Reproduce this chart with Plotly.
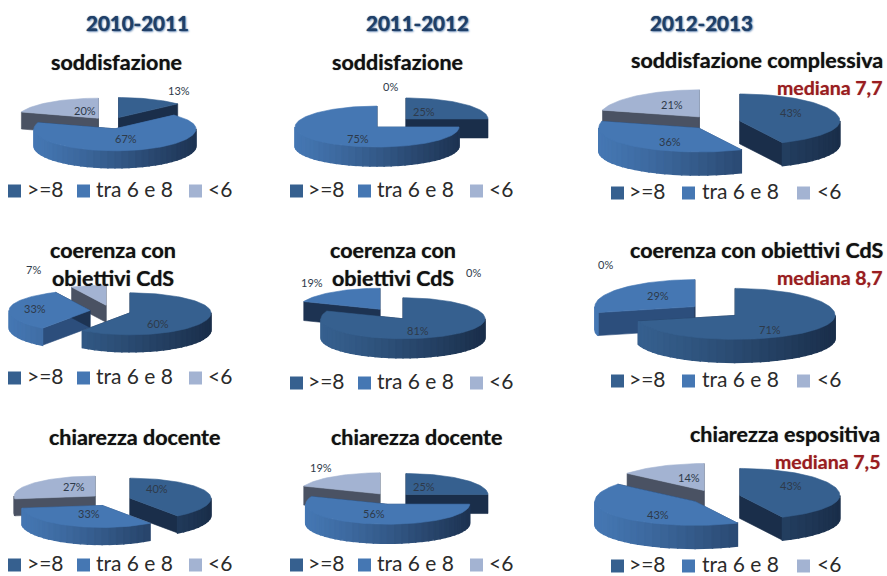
import math
import plotly.graph_objects as go

# ---------- data ----------
series_names = [">=8", "tra 6 e 8", "<6"]
years = ["2010-2011", "2011-2012", "2012-2013"]
soddisfazione_1011 = [13, 67, 20]
soddisfazione_1112 = [25, 75, 0]
soddisfazione_1213 = [43, 36, 21]
coerenza_1011 = [60, 33, 7]
coerenza_1112 = [81, 19, 0]
coerenza_1213 = [71, 29, 0]
chiarezza_1011 = [40, 33, 27]
chiarezza_1112 = [25, 56, 19]
chiarezza_1213 = [43, 43, 14]
panel_values = [soddisfazione_1011, soddisfazione_1112, soddisfazione_1213,
                coerenza_1011, coerenza_1112, coerenza_1213,
                chiarezza_1011, chiarezza_1112, chiarezza_1213]

# ---------- layout and style ----------
TOP = ["#36608F", "#4577B3", "#A3B3D2"]
SIDE = ["#1A2E4A", "#1D3352", "#4A5263"]
RADIAL = ["#1A2E4A", "#2C4E7C", "#4A5263"]
col_geom = [
    dict(cx=110.5, pull=20.5, rx=81, back=20, front=22, depth=17, ratio=0.29),
    dict(cx=391.5, pull=20.5, rx=82, back=21, front=20, depth=19, ratio=0.28),
    dict(cx=715.0, pull=25.5, rx=100, back=27, front=24, depth=23, ratio=0.28),
]
row_cy = [[123, 123, 122.5], [311, 314, 311], [500, 498.6, 497]]
label_pos = [
    [(179, 90), (126, 138), (85, 110)], [(424, 111), (358, 138), (390, 86)], [(791, 112), (670, 141), (672, 104)],
    [(158, 323), (35, 308), (33, 269)], [(418, 330), (312, 282), (473, 272)], [(770, 329), (658, 295), (605, 264)],
    [(157, 488), (89, 513), (74, 486)], [(424, 486), (374, 513), (321, 467)], [(791, 485), (658, 514), (689, 477)],
]
legend_x = [[(8, 25), (77, 94), (189, 206)], [(290, 306), (358, 375), (470, 487)], [(611, 627), (682, 700), (797, 815)]]
legend_y = [[191, 191, 193], [378, 383, 381], [565, 565, 566]]
LEGEND_TEXT_SHIFT = -3
FONT = "Lato, Carlito, 'Open Sans', sans-serif"

titles = [
    ("soddisfazione", 116, 62), ("soddisfazione", 397, 62), ("soddisfazione complessiva", 757, 60),
    ("coerenza con", 113, 250), ("coerenza con", 393, 250), ("coerenza con obiettivi CdS", 757, 250),
    ("obiettivi CdS", 113, 278), ("obiettivi CdS", 393, 278),
    ("chiarezza docente", 135, 437), ("chiarezza docente", 417, 437), ("chiarezza espositiva", 785, 434),
]
medians = [("mediana 7,7", 884, 87), ("mediana 8,7", 884, 277), ("mediana 7,5", 882, 461)]
year_x = [137, 417, 701]
YEAR_Y = 23

fig = go.Figure()


def hex2rgb(c):
    return [int(c[i:i + 2], 16) for i in (1, 3, 5)]


def mix(a, b, t):
    t = max(0, min(1, t))
    ca, cb = hex2rgb(a), hex2rgb(b)
    return "rgb(%d,%d,%d)" % tuple(round(x + (y - x) * t) for x, y in zip(ca, cb))


def poly(xs, ys, color, lw=0.6):
    fig.add_trace(go.Scatter(x=xs + xs[:1], y=ys + ys[:1], mode="lines", fill="toself", fillcolor=color,
                             line=dict(color=color, width=lw), hoverinfo="skip", showlegend=False))


def arc_pt(ax, ay, g, deg):
    r = math.radians(deg)
    c = math.cos(r)
    return ax + g["rx"] * math.sin(r), ay - (g["back"] if c > 0 else g["front"]) * c


def angles(a, b, step):
    n = max(2, int(abs(b - a) / step) + 1)
    return [a + (b - a) * i / (n - 1) for i in range(n)]


def radial_color(k, deg):
    return SIDE[1] if (k == 1 and deg > 270) else RADIAL[k]


def draw_wedge(ax, ay, g, start, end, k):
    d = g["depth"]
    for deg in (start, end):
        px, py = arc_pt(ax, ay, g, deg)
        poly([ax, px, px, ax], [ay, py, py + d, ay + d], radial_color(k, deg))
    lo, hi = max(start, 90), min(end, 270)
    if hi > lo:
        a = angles(hi, lo, 5)
        for d0, d1 in zip(a[:-1], a[1:]):
            x0, y0 = arc_pt(ax, ay, g, d0)
            x1, y1 = arc_pt(ax, ay, g, d1)
            t = ((x0 + x1) / 2 - (ax - g["rx"])) / (2 * g["rx"])
            shade = SIDE[k] if k == 2 else mix(TOP[k], SIDE[k], t ** 1.2)
            poly([x0, x1, x1, x0], [y0, y1, y1 + d, y0 + d], shade, lw=1.5)
    pts = [arc_pt(ax, ay, g, x) for x in angles(start, end, 2)]
    poly([ax] + [p[0] for p in pts], [ay] + [p[1] for p in pts], TOP[k])


for idx, values in enumerate(panel_values):
    row, col = idx // 3, idx % 3
    g = col_geom[col]
    cy = row_cy[row][col]
    total = sum(values)
    wedges, acc = [], 0
    for k, v in enumerate(values):
        s = acc / total * 360
        acc += v
        e = acc / total * 360
        if v > 0:
            wedges.append((s, e, k))
    wedges.sort(key=lambda w: -math.cos(math.radians((w[0] + w[1]) / 2)))
    for s, e, k in wedges:
        m = math.radians((s + e) / 2)
        ax = g["cx"] + g["pull"] * math.sin(m)
        ay = cy - g["pull"] * g["ratio"] * math.cos(m)
        draw_wedge(ax, ay, g, s, e, k)

    for k in range(3):
        sq, tx = legend_x[col][k]
        y = legend_y[row][col]
        fig.add_trace(go.Scatter(x=[sq + 6.5], y=[y], mode="markers", hoverinfo="skip", showlegend=False,
                                 marker=dict(symbol="square", size=13, color=TOP[k], line=dict(width=0))))
        fig.add_annotation(x=tx, y=y + LEGEND_TEXT_SHIFT, text=series_names[k], showarrow=False,
                           xanchor="left", yanchor="middle",
                           font=dict(family=FONT, size=21, color="#2B2B2B"))
    for v, (lx, ly) in zip(values, label_pos[idx]):
        fig.add_annotation(x=lx, y=ly, text=f"{v}%", showarrow=False,
                           font=dict(family=FONT, size=11, color="#2E3A4A"))

for text, x, y in titles:
    fig.add_annotation(x=x, y=y, text=f"<b>{text}</b>", showarrow=False,
                       font=dict(family=FONT, size=21.5, color="#111111", shadow="0 0 1px #666666"))
for text, x, y in medians:
    fig.add_annotation(x=x, y=y, text=f"<b>{text}</b>", showarrow=False, xanchor="right",
                       font=dict(family=FONT, size=19.5, color="#9A1C20", shadow="0 0 1px #C08080"))
for text, x in zip(years, year_x):
    fig.add_annotation(x=x, y=YEAR_Y, text=f"<b>{text}</b>", showarrow=False,
                       font=dict(family=FONT, size=20.5, color="#1F3F68",
                                 shadow="0 0 1px #1F3F68, 1px 1px 2px #6F8FB8"))

fig.update_layout(
    width=887, height=576, margin=dict(l=0, r=0, t=0, b=0),
    paper_bgcolor="white", plot_bgcolor="white", showlegend=False,
    xaxis=dict(range=[0, 887], visible=False, fixedrange=True),
    yaxis=dict(range=[576, 0], visible=False, fixedrange=True),
)
fig.write_html("out.html", config={"displayModeBar": False},
               post_script="document.body.style.margin='0';document.documentElement.style.overflow='hidden';")
